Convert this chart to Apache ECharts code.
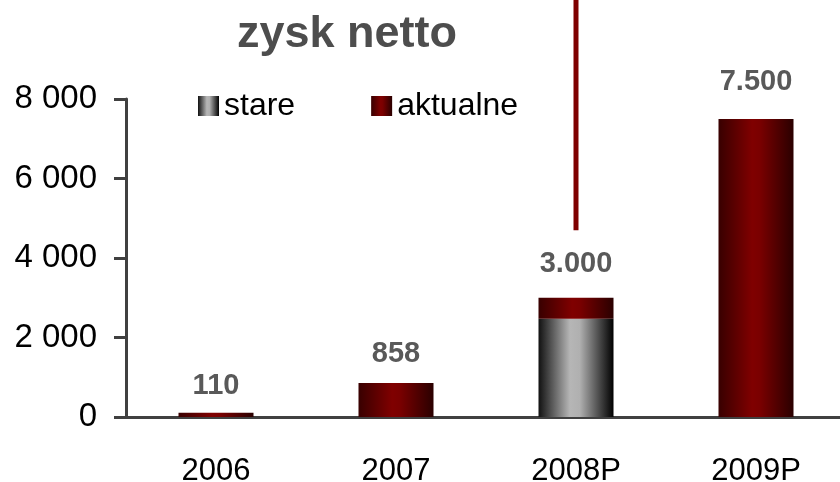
<!DOCTYPE html>
<html>
<head>
<meta charset="utf-8">
<script src="https://cdn.jsdelivr.net/npm/echarts@6/dist/echarts.min.js"></script>
<style>
  html, body { margin: 0; padding: 0; background: #fff; }
  #chart { width: 840px; height: 482px; }
</style>
</head>
<body>
<div id="chart"></div>
<script>
// dane
var years = ['2006', '2007', '2008P', '2009P'];
var stare = ['-', '-', 2470, '-'];
var aktualne = [110, 858, 530, 7500];
var sumLabels = ['110', '858', '3.000', '7.500'];
var labelGap = [12, 14, 19, 22];
var yTicks = [0, 2000, 4000, 6000, 8000];
var markerYear = '2008P';
var markerBottom = 4700;

var redFill = new echarts.graphic.LinearGradient(0, 0, 1, 0, [
    {offset: 0, color: '#380000'},
    {offset: 0.45, color: '#800000'},
    {offset: 0.55, color: '#7a0000'},
    {offset: 1, color: '#2a0000'}
]);
var greyFill = new echarts.graphic.LinearGradient(0, 0, 1, 0, [
    {offset: 0, color: '#111'},
    {offset: 0.42, color: '#b6b6b6'},
    {offset: 0.55, color: '#b0b0b0'},
    {offset: 1, color: '#000'}
]);

var chart = echarts.init(document.getElementById('chart'));

var option = {
    animation: false,
    title: {
        text: 'zysk netto',
        left: 342, top: 7, textAlign: 'center',
        textStyle: {fontFamily: 'Liberation Sans', fontSize: 45, fontWeight: 'bold', color: '#4d4d4d'}
    },
    legend: {
        left: 193, top: 85,
        icon: 'rect',
        itemWidth: 21, itemHeight: 20, itemGap: 76,
        textStyle: {fontFamily: 'Liberation Sans', fontSize: 32, color: '#000'},
        data: ['stare', 'aktualne']
    },
    grid: {left: 126, top: 99, width: 720, height: 318, outerBoundsMode: 'none', containLabel: false},
    xAxis: {
        type: 'category',
        data: years,
        axisLine: {lineStyle: {color: '#404040', width: 3}},
        axisTick: {length: 11, lineStyle: {color: '#404040', width: 3}},
        axisLabel: {margin: 39, fontFamily: 'Liberation Sans', fontSize: 31, color: '#000'}
    },
    yAxis: {
        type: 'value',
        min: yTicks[0], max: yTicks[yTicks.length - 1], interval: 2000,
        splitLine: {show: false},
        axisLine: {show: true, lineStyle: {color: '#404040', width: 3}},
        axisTick: {show: true, length: 12, lineStyle: {color: '#404040', width: 3}},
        axisLabel: {
            margin: 29, fontFamily: 'Liberation Sans', fontSize: 33, color: '#000',
            formatter: function(v) { return v === 0 ? '0' : String(v).replace(/\B(?=(\d{3})+$)/g, ' '); }
        }
    },
    series: [
        {
            name: 'stare',
            type: 'bar',
            stack: 'zysk',
            barWidth: 75,
            itemStyle: {color: greyFill},
            data: stare
        },
        {
            name: 'aktualne',
            type: 'bar',
            stack: 'zysk',
            barWidth: 75,
            itemStyle: {color: redFill},
            data: aktualne.map(function(v, i) {
                return {
                    value: v,
                    label: {
                        show: true, position: 'top', distance: labelGap[i],
                        formatter: sumLabels[i],
                        fontFamily: 'Liberation Sans', fontSize: 29, fontWeight: 'bold', color: '#595959'
                    }
                };
            })
        }
    ]
};
chart.setOption(option);

// pionowa kreska nad 2008P
var mx = chart.convertToPixel({xAxisIndex: 0}, markerYear);
var my = chart.convertToPixel({yAxisIndex: 0}, markerBottom);
chart.setOption({
    graphic: [{
        type: 'line',
        shape: {x1: mx, y1: 0, x2: mx, y2: my},
        style: {stroke: '#7f0000', lineWidth: 5}
    }]
});
</script>
</body>
</html>
